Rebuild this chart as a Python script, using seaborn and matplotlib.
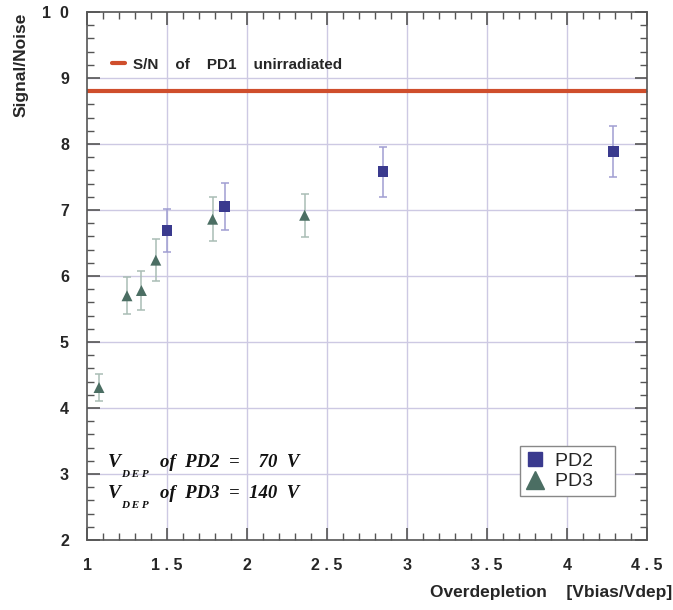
import numpy as np
import pandas as pd
import matplotlib
matplotlib.use("Agg")
import matplotlib.pyplot as plt
from matplotlib.ticker import MultipleLocator, FixedLocator
from matplotlib.lines import Line2D
import seaborn as sns

# ---- data ----
pd2_x = [1.50, 1.86, 2.85, 4.29]
pd2_y = [6.69, 7.05, 7.58, 7.89]
pd2_err = [0.33, 0.36, 0.38, 0.39]

pd3_x = [1.075, 1.25, 1.34, 1.43, 1.785, 2.36]
pd3_y = [4.31, 5.70, 5.78, 6.24, 6.86, 6.92]
pd3_err = [0.21, 0.28, 0.29, 0.32, 0.33, 0.33]

pd1_sn = 8.8

x_ticks = [1, 1.5, 2, 2.5, 3, 3.5, 4, 4.5]
x_ticklabels = ["1", "1 . 5", "2", "2 . 5", "3", "3 . 5", "4", "4 . 5"]
y_ticks = [2, 3, 4, 5, 6, 7, 8, 9, 10]
y_ticklabels = ["2", "3", "4", "5", "6", "7", "8", "9", "1  0"]

sns.set_theme(style="white")
plt.rcParams['font.family'] = ['Liberation Sans', 'DejaVu Sans']

W, H = 673, 610
fig = plt.figure(figsize=(W / 100, H / 100), dpi=100)
L, R, T, B = 87, 647, 12, 540
ax = fig.add_axes([L / W, 1 - B / H, (R - L) / W, (B - T) / H])

df = pd.DataFrame({
    "x": pd2_x + pd3_x,
    "y": pd2_y + pd3_y,
    "series": ["PD2"] * len(pd2_x) + ["PD3"] * len(pd3_x),
})

c_pd2 = "#3a3a8e"
c_pd3 = "#4b6e63"
c_red = "#cf4e2c"
grid_c = "#cdc9e3"

ax.set_xlim(1, 4.5)
ax.set_ylim(2, 10)

# grid
for xv in x_ticks[1:-1]:
    ax.axvline(xv, color=grid_c, lw=1, zorder=0)
for yv in y_ticks[1:-1]:
    ax.axhline(yv, color=grid_c, lw=1, zorder=0)

# reference line
ax.axhline(pd1_sn, color=c_red, lw=3, zorder=2)

# error bars
ax.errorbar(pd2_x, pd2_y, yerr=pd2_err, fmt="none", ecolor="#a09ed2",
            elinewidth=1.1, capsize=2.6, capthick=1.1, zorder=3)
ax.errorbar(pd3_x, pd3_y, yerr=pd3_err, fmt="none", ecolor="#a9bdb5",
            elinewidth=1.1, capsize=2.6, capthick=1.1, zorder=3)

sns.scatterplot(data=df, x="x", y="y", hue="series", style="series",
                markers={"PD2": "s", "PD3": "^"},
                palette={"PD2": c_pd2, "PD3": c_pd3},
                s=62, linewidth=0, ax=ax, zorder=4, legend=False)

# spines / ticks
for sp in ax.spines.values():
    sp.set_color("#555555")
    sp.set_linewidth(1.2)
ax.xaxis.set_major_locator(FixedLocator(x_ticks))
ax.yaxis.set_major_locator(FixedLocator(y_ticks))
ax.xaxis.set_minor_locator(MultipleLocator(0.1))
ax.yaxis.set_minor_locator(MultipleLocator(0.2))
ax.set_xticklabels(x_ticklabels, fontsize=11.5, fontweight="bold")
ax.set_yticklabels(y_ticklabels, fontsize=11.5, fontweight="bold")
ax.tick_params(which="both", direction="in", top=True, right=True,
               bottom=True, left=True, color="#555555")
ax.tick_params(which="major", length=9, width=1.2)
ax.tick_params(which="minor", length=5, width=1)
ax.tick_params(axis="x", which="major", pad=13)
ax.tick_params(axis="y", which="major", pad=13)
ax.set_xlabel("")
ax.set_ylabel("")
ax.grid(False)

# legends
leg1 = ax.legend([Line2D([], [], color=c_red, lw=3)],
                 ["S/N    of    PD1    unirradiated"],
                 loc="center left", bbox_to_anchor=(0.0446, 0.900),
                 frameon=False, handlelength=0.85, handletextpad=0.5,
                 borderaxespad=0, borderpad=0,
                 prop={"weight": "bold", "size": 11})
ax.add_artist(leg1)

h2 = Line2D([], [], marker="s", color=c_pd2, ls="none", markersize=9.5)
h3 = Line2D([], [], marker="^", color=c_pd3, ls="none", markersize=12.5)
leg2 = ax.legend([h2, h3], ["PD2   ", "PD3   "], loc="lower left",
                 bbox_to_anchor=(0.773, 0.083), borderaxespad=0,
                 fancybox=False, framealpha=1, edgecolor="#888888",
                 prop={"size": 14}, handletextpad=0.5, borderpad=0.3,
                 labelspacing=0.15, handlelength=1.0)
leg2.get_frame().set_linewidth(1)

# annotation
tf = dict(family="Liberation Serif", style="italic", weight="bold", color="#111111")
for yb, txt in [(3.11, "of  PD2  =    70  V"), (2.64, "of  PD3  =  140  V")]:
    ax.text(1.13, yb, "V", fontsize=14, va="baseline", ha="left", **tf)
    ax.text(1.213, yb - 0.15, "D E P", fontsize=8, va="baseline", ha="left", **tf)
    ax.text(1.458, yb, txt, fontsize=13.5, va="baseline", ha="left", **tf)

# axis titles
fig.text(21 / W, 1 - 65 / H, "Signal/Noise", rotation=90, ha="center",
         va="center", fontsize=12.5, fontweight="bold")
fig.text(672 / W, 1 - 593 / H, "Overdepletion    [Vbias/Vdep]", ha="right",
         va="center", fontsize=12.5, fontweight="bold")

fig.savefig("out.png", dpi=100)
